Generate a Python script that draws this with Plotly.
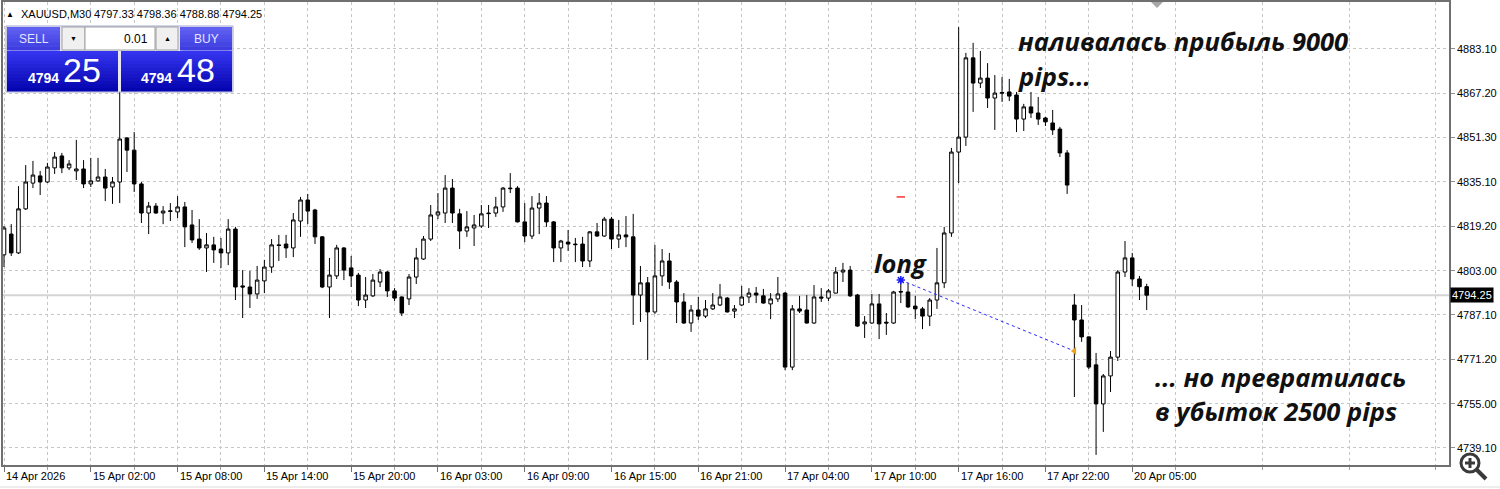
import plotly.graph_objects as go

W, H = 1500, 489
ML, MR, MT, MB = 3, 51, 2, 24
PW, PH = W - ML - MR, H - MT - MB

# XAUUSD M30 bars, bar 0 = leftmost visible candle
opens = [
    4808.8, 4816.3, 4809.5, 4825.4, 4834.7, 4837.3, 4835.1, 4840.2, 4844.5, 4840.2,
    4839.1, 4839.8, 4834.4, 4835.5, 4836.9, 4833.3, 4835.1, 4851.0, 4846.6, 4834.4,
    4823.9, 4826.4, 4823.9, 4824.7, 4824.3, 4826.1, 4819.6, 4814.5, 4811.3, 4812.4,
    4810.9, 4809.5, 4818.1, 4797.6, 4797.2, 4794.7, 4799.4, 4804.4, 4812.4, 4812.7,
    4811.3, 4821.0, 4828.6, 4825.0, 4815.3, 4797.2, 4801.2, 4811.3, 4804.1, 4801.5,
    4792.5, 4794.0, 4799.0, 4802.6, 4795.8, 4793.6, 4792.9, 4800.8, 4807.3, 4814.5,
    4823.2, 4823.9, 4832.9, 4823.6, 4817.4, 4818.5, 4819.2, 4823.9, 4823.9, 4826.1,
    4832.9, 4832.9, 4820.7, 4815.6, 4825.7, 4827.5, 4820.7, 4811.3, 4813.4, 4812.7,
    4812.7, 4806.6, 4817.1, 4815.6, 4821.7, 4814.5, 4816.0, 4815.3, 4794.3, 4798.7,
    4788.2, 4801.2, 4806.6, 4799.0, 4791.8, 4784.2, 4788.9, 4786.7, 4789.3, 4790.7,
    4793.2, 4788.5, 4790.7, 4793.6, 4795.0, 4794.0, 4791.1, 4792.9, 4795.0, 4768.3,
    4789.3, 4788.9, 4784.2, 4793.6, 4793.2, 4795.0, 4802.6, 4803.3, 4794.3, 4783.9,
    4784.2, 4791.1, 4784.5, 4784.2, 4795.6, 4795.4, 4790.3, 4789.3, 4786.7, 4792.5,
    4798.7, 4816.7, 4845.9, 4851.3, 4879.9, 4870.8, 4872.6, 4865.4, 4867.4, 4867.6,
    4866.5, 4857.8, 4862.2, 4860.0, 4858.2, 4856.4, 4854.2, 4845.6, 4790.7, 4785.3,
    4779.2, 4769.1, 4755.0, 4765.1, 4771.9, 4802.6, 4807.7, 4800.1, 4797.33,
]
highs = [
    4819.2, 4819.9, 4833.6, 4841.2, 4842.7, 4839.1, 4842.0, 4845.9, 4845.6, 4843.0,
    4850.3, 4843.0, 4843.8, 4843.8, 4839.8, 4836.9, 4884.5, 4851.3, 4853.1, 4835.1,
    4827.9, 4827.5, 4826.4, 4827.5, 4830.0, 4827.9, 4825.0, 4821.7, 4816.7, 4815.3,
    4814.9, 4821.7, 4818.9, 4803.3, 4803.0, 4804.8, 4807.0, 4814.5, 4816.0, 4816.0,
    4823.9, 4829.7, 4830.8, 4825.4, 4815.6, 4807.7, 4812.4, 4811.6, 4808.4, 4802.3,
    4800.8, 4801.9, 4803.7, 4803.0, 4796.8, 4793.8, 4801.9, 4811.3, 4815.6, 4826.8,
    4831.1, 4837.6, 4836.2, 4825.4, 4824.6, 4823.2, 4826.8, 4826.8, 4829.7, 4833.3,
    4838.3, 4833.6, 4827.5, 4830.0, 4831.1, 4830.0, 4821.0, 4814.2, 4817.8, 4814.9,
    4815.3, 4817.4, 4820.3, 4822.5, 4822.5, 4821.4, 4822.8, 4823.6, 4804.8, 4800.8,
    4812.4, 4810.9, 4809.5, 4799.7, 4795.0, 4790.7, 4793.6, 4792.5, 4795.0, 4798.3,
    4793.6, 4790.7, 4797.6, 4796.8, 4797.2, 4796.5, 4795.0, 4800.8, 4795.4, 4790.7,
    4794.0, 4794.3, 4797.9, 4796.8, 4796.5, 4804.4, 4805.9, 4804.8, 4794.7, 4786.7,
    4794.7, 4794.7, 4787.8, 4795.8, 4799.7, 4798.7, 4794.0, 4790.0, 4793.2, 4811.3,
    4818.9, 4847.4, 4891.0, 4881.7, 4885.3, 4882.4, 4878.0, 4873.7, 4873.0, 4872.3,
    4867.6, 4863.3, 4867.6, 4865.8, 4858.6, 4861.1, 4855.0, 4846.6, 4794.7, 4790.7,
    4779.4, 4773.4, 4765.8, 4774.1, 4803.3, 4813.8, 4809.5, 4801.2, 4798.36,
]
lows = [
    4804.4, 4808.4, 4809.1, 4825.0, 4832.9, 4830.4, 4834.7, 4838.0, 4838.3, 4839.4,
    4835.8, 4832.9, 4833.3, 4835.1, 4828.2, 4827.2, 4827.5, 4838.7, 4831.5, 4820.3,
    4816.3, 4823.6, 4819.9, 4821.0, 4822.1, 4811.6, 4813.1, 4810.6, 4802.6, 4805.9,
    4804.1, 4805.1, 4792.5, 4786.0, 4789.6, 4792.9, 4795.0, 4802.3, 4806.6, 4807.7,
    4808.0, 4815.3, 4819.9, 4812.7, 4796.8, 4786.0, 4800.1, 4799.7, 4797.2, 4790.3,
    4789.6, 4793.6, 4797.2, 4793.6, 4792.1, 4786.7, 4790.7, 4798.3, 4807.0, 4813.8,
    4821.7, 4820.3, 4820.3, 4810.9, 4815.3, 4812.0, 4818.5, 4818.5, 4822.5, 4824.3,
    4831.1, 4820.5, 4813.4, 4814.5, 4816.3, 4818.9, 4806.2, 4806.2, 4810.2, 4806.2,
    4804.4, 4804.4, 4815.3, 4815.3, 4810.9, 4811.3, 4811.6, 4783.5, 4784.6, 4770.9,
    4787.5, 4797.6, 4796.5, 4784.2, 4783.9, 4781.0, 4785.3, 4786.0, 4788.9, 4790.3,
    4788.0, 4786.0, 4790.3, 4791.4, 4791.4, 4791.2, 4785.6, 4791.8, 4767.2, 4767.2,
    4787.8, 4784.0, 4783.9, 4791.8, 4792.1, 4794.9, 4799.0, 4793.6, 4782.8, 4778.8,
    4783.9, 4778.4, 4779.9, 4783.9, 4791.4, 4789.6, 4785.6, 4782.0, 4783.1, 4789.3,
    4796.8, 4815.3, 4834.7, 4848.1, 4860.4, 4869.0, 4861.8, 4853.9, 4864.0, 4864.3,
    4853.1, 4853.5, 4858.2, 4855.7, 4855.3, 4852.1, 4844.1, 4830.8, 4757.5, 4777.4,
    4767.6, 4736.6, 4744.9, 4759.3, 4770.5, 4800.8, 4797.6, 4792.5, 4788.88,
]
closes = [
    4818.5, 4809.5, 4825.4, 4835.1, 4837.6, 4835.1, 4840.5, 4844.1, 4840.2, 4841.6,
    4839.8, 4834.4, 4835.5, 4836.9, 4832.9, 4835.1, 4850.6, 4846.6, 4834.4, 4823.9,
    4826.4, 4823.9, 4824.6, 4824.5, 4826.1, 4818.9, 4814.2, 4811.3, 4812.4, 4810.6,
    4809.5, 4818.1, 4797.2, 4797.2, 4794.7, 4799.7, 4804.4, 4812.4, 4812.2, 4811.3,
    4821.4, 4828.6, 4824.6, 4815.3, 4797.2, 4801.5, 4811.3, 4803.3, 4801.2, 4792.5,
    4794.3, 4799.7, 4802.6, 4795.8, 4793.2, 4787.8, 4800.8, 4807.7, 4814.5, 4823.2,
    4824.3, 4832.9, 4823.9, 4817.4, 4818.9, 4819.6, 4823.6, 4823.7, 4826.1, 4832.9,
    4832.7, 4820.7, 4815.6, 4825.7, 4827.5, 4820.7, 4811.3, 4813.8, 4812.7, 4812.5,
    4806.6, 4817.1, 4815.6, 4821.7, 4814.5, 4816.0, 4815.3, 4794.3, 4798.7, 4788.2,
    4801.2, 4806.6, 4799.0, 4791.8, 4784.2, 4788.9, 4786.7, 4789.3, 4790.7, 4793.6,
    4788.2, 4789.3, 4793.6, 4795.0, 4794.3, 4791.4, 4792.9, 4794.7, 4768.3, 4789.3,
    4788.5, 4784.2, 4793.6, 4793.2, 4795.8, 4802.6, 4803.3, 4794.0, 4783.1, 4784.6,
    4791.1, 4783.9, 4784.2, 4795.4, 4795.4, 4790.0, 4789.3, 4786.7, 4792.5, 4798.7,
    4816.7, 4845.9, 4851.3, 4879.9, 4870.8, 4872.6, 4865.4, 4867.2, 4867.2, 4866.1,
    4857.8, 4862.2, 4860.0, 4857.8, 4856.8, 4853.9, 4845.6, 4834.0, 4785.3, 4779.2,
    4768.3, 4755.0, 4765.1, 4771.9, 4802.6, 4807.7, 4800.1, 4797.3, 4794.25,
]
bars = list(range(len(closes)))

tick_bars = list(range(0, 157, 12))
tick_labels = [
    "14 Apr 2026", "15 Apr 02:00", "15 Apr 08:00", "15 Apr 14:00", "15 Apr 20:00",
    "16 Apr 03:00", "16 Apr 09:00", "16 Apr 15:00", "16 Apr 21:00", "17 Apr 04:00",
    "17 Apr 10:00", "17 Apr 16:00", "17 Apr 22:00", "20 Apr 05:00",
]
minor_bars = list(range(6, 200, 12))
price_ticks = [4739.10, 4755.00, 4771.20, 4787.10, 4803.00,
               4819.20, 4835.10, 4851.30, 4867.20, 4883.10]

bid, ask, lot = 4794.25, 4794.48, "0.01"
entry_bar, entry_price = 124, 4799.7
exit_bar, exit_price = 148, 4774.1
stop_price = 4829.7

GRID = "#c6c6c6"
FONT = "Liberation Sans"


# pixel -> paper helpers for the trade panel and chrome
def fx(px):
    return (px - ML) / PW


def fy(py):
    return 1 - (py - MT) / PH


shapes = []
annotations = []


def rect(x0, y0, x1, y1, fill, line=None):
    shapes.append(dict(type="rect", xref="paper", yref="paper",
                       x0=fx(x0), x1=fx(x1), y0=fy(y1), y1=fy(y0),
                       fillcolor=fill, layer="above",
                       line=dict(width=1 if line else 0, color=line or fill)))


def grad(x0, y0, x1, y1, top, bottom, n=12):
    step = (y1 - y0) / n
    for i in range(n):
        t = i / (n - 1)
        c = tuple(round(a + (b - a) * t) for a, b in zip(top, bottom))
        rect(x0, y0 + i * step, x1, y0 + (i + 1) * step + 0.6, "rgb(%d,%d,%d)" % c)


def text(px, py, s, size, color="black", anchor="center", family=FONT):
    annotations.append(dict(xref="paper", yref="paper", x=fx(px), y=fy(py),
                            text=s, showarrow=False, xanchor=anchor, yanchor="middle",
                            font=dict(family=family, size=size, color=color)))


fig = go.Figure()

fig.add_trace(go.Candlestick(
    x=bars, open=opens, high=highs, low=lows, close=closes,
    increasing=dict(line=dict(color="black", width=1), fillcolor="white"),
    decreasing=dict(line=dict(color="black", width=1), fillcolor="black"),
    whiskerwidth=0, hoverinfo="skip", showlegend=False,
))

fig.add_trace(go.Scatter(
    x=[entry_bar, exit_bar], y=[entry_price, exit_price], mode="lines",
    line=dict(color="#2a2aff", width=1, dash="dot"), hoverinfo="skip", showlegend=False,
))
fig.add_trace(go.Scatter(
    x=[entry_bar], y=[entry_price], mode="markers",
    marker=dict(symbol="asterisk-open", size=7, color="#1a1aff",
                line=dict(color="#1a1aff", width=1.5)),
    hoverinfo="skip", showlegend=False,
))
fig.add_trace(go.Scatter(
    x=[exit_bar], y=[exit_price], mode="markers",
    marker=dict(symbol="triangle-left", size=7, color="#f0a020"),
    hoverinfo="skip", showlegend=False,
))
fig.add_trace(go.Scatter(
    x=[entry_bar], y=[stop_price], mode="markers",
    marker=dict(symbol="line-ew", size=6, color="red", line=dict(color="red", width=1.2)),
    hoverinfo="skip", showlegend=False,
))

# bid line
shapes.append(dict(type="line", xref="paper", yref="y", x0=0, x1=1, y0=bid, y1=bid,
                   line=dict(color="#d4d4d4", width=2), layer="below"))

# price label on the axis
annotations.append(dict(xref="paper", yref="y", x=1, y=bid, xanchor="left", xshift=1,
                        text="%.2f" % bid, showarrow=False, bgcolor="black", borderpad=1,
                        font=dict(family=FONT, size=11, color="white")))

# x-axis labels, left aligned on their ticks like MT4
for b, lab in zip(tick_bars, tick_labels):
    annotations.append(dict(xref="x", yref="paper", x=b, y=fy(476), xanchor="left",
                            yanchor="middle", showarrow=False, text=lab,
                            font=dict(family=FONT, size=11, color="black")))

# header
text(9.5, 14, "▲", 8)
text(19, 14, "XAUUSD,M30", 11, anchor="left")
text(92, 14, "%.2f %.2f %.2f %.2f" % (opens[-1], highs[-1], lows[-1], closes[-1]), 11, anchor="left")

# one-click trading panel
rect(6, 26, 233, 92, "#e8e8f4", "#a8a8d0")
grad(7, 27, 60, 50, (96, 96, 242), (62, 62, 224), 6)
grad(180, 27, 232, 50, (96, 96, 242), (62, 62, 224), 6)
rect(62, 27, 85, 50, "#f0f0f0", "#a0a0a0")
rect(85, 27, 155, 50, "white", "#a0a0a0")
rect(156, 27, 178, 50, "#f0f0f0", "#a0a0a0")
shapes.append(dict(type="rect", xref="paper", yref="paper", x0=fx(118), x1=fx(121),
                   y0=fy(92), y1=fy(51), fillcolor="white", line=dict(width=0), layer="below"))
grad(7, 51, 118, 91, (52, 52, 238), (6, 6, 176))
grad(121, 51, 232, 91, (52, 52, 238), (6, 6, 176))
rect(10, 50, 57, 51, "#8080f0")
rect(183, 50, 229, 51, "#8080f0")
text(33.5, 39, "SELL", 12, "#e4e4ff")
text(206, 39, "BUY", 12, "#e4e4ff")
text(73.5, 38.5, "▼", 7)
text(167, 38.5, "▲", 7)
text(150, 39, lot, 12, anchor="right")
s_big, b_big = ("%.2f" % bid).split("."), ("%.2f" % ask).split(".")
text(26, 78, "<b>%s</b>" % s_big[0], 14, "white", anchor="left")
text(61, 70, s_big[1], 34, "white", anchor="left")
text(139, 78, "<b>%s</b>" % b_big[0], 14, "white", anchor="left")
text(175, 70, b_big[1], 34, "white", anchor="left")

# chart shift marker and zoom icon
shapes.append(dict(type="path", xref="paper", yref="paper", layer="above",
                   path="M %f %f L %f %f L %f %f Z" % (fx(1151), fy(2), fx(1163), fy(2), fx(1157), fy(8)),
                   fillcolor="#a8a8a8", line=dict(width=0)))
shapes.append(dict(type="circle", xref="paper", yref="paper", layer="above",
                   x0=fx(1461), x1=fx(1479), y0=fy(472), y1=fy(454),
                   fillcolor="white", line=dict(color="#3a3a3a", width=3)))
shapes.append(dict(type="line", xref="paper", yref="paper", layer="above",
                   x0=fx(1477), x1=fx(1486), y0=fy(470), y1=fy(479),
                   line=dict(color="#3a3a3a", width=4)))
shapes.append(dict(type="line", xref="paper", yref="paper", layer="above",
                   x0=fx(1465), x1=fx(1475), y0=fy(463), y1=fy(463),
                   line=dict(color="#3a3a3a", width=3)))
shapes.append(dict(type="line", xref="paper", yref="paper", layer="above",
                   x0=fx(1470), x1=fx(1470), y0=fy(458), y1=fy(468),
                   line=dict(color="#3a3a3a", width=3)))
shapes.append(dict(type="line", xref="paper", yref="paper", layer="above",
                   x0=fx(0), x1=fx(1500), y0=fy(487), y1=fy(487),
                   line=dict(color="#dcdcdc", width=1)))

# handwritten-style notes
NOTE = dict(family="Open Sans", size=25.5, color="#111111")
for x, y, s, anchor in [
    (123.9, 4805.9, "long", "center"),
    (139.9, 4886.0, "наливалась прибыль 9000", "left"),
    (139.9, 4873.4, "pips...", "left"),
    (158.9, 4764.7, "... но превратилась", "left"),
    (158.9, 4752.4, "в убыток 2500 pips", "left"),
]:
    annotations.append(dict(xref="x", yref="y", x=x, y=y, text="<b><i>%s</i></b>" % s,
                            showarrow=False, xanchor=anchor, yanchor="middle", font=NOTE))

fig.update_layout(
    width=W, height=H,
    margin=dict(l=ML, r=MR, t=MT, b=MB),
    paper_bgcolor="white", plot_bgcolor="white",
    showlegend=False, hovermode=False,
    shapes=shapes, annotations=annotations,
    font=dict(family=FONT, size=11, color="black"),
)
fig.update_xaxes(
    range=[-0.14, 199.8], rangeslider_visible=False, automargin=False,
    tickvals=tick_bars, ticktext=[""] * len(tick_bars),
    ticks="outside", ticklen=5, tickcolor="#707070",
    showgrid=True, gridcolor=GRID, griddash="3px,3px", gridwidth=1,
    minor=dict(tickvals=minor_bars, ticks="outside", ticklen=3, tickcolor="#a0a0a0",
               showgrid=True, gridcolor=GRID, griddash="3px,3px", gridwidth=1),
    showline=True, linecolor="#707070", linewidth=1.5, mirror=True, zeroline=False,
)
fig.update_yaxes(
    range=[4732.96, 4900.06], side="right", automargin=False,
    tickvals=price_ticks, ticktext=["%.2f" % p for p in price_ticks],
    ticks="outside", ticklen=4, tickcolor="#909090",
    tickfont=dict(family=FONT, size=11, color="black"),
    showgrid=True, gridcolor=GRID, griddash="3px,3px", gridwidth=1,
    showline=True, linecolor="#707070", linewidth=1.5, mirror=True, zeroline=False,
)

fig.write_html("out.html", config={"displayModeBar": False},
               post_script="document.body.style.margin='0';document.body.style.overflow='hidden';")
